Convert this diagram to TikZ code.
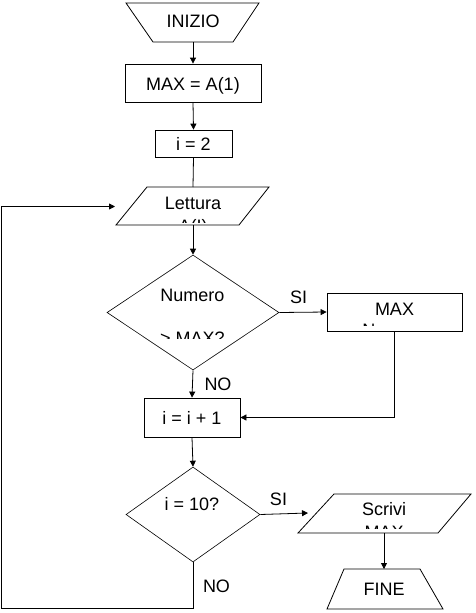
\documentclass[tikz,border=0pt]{standalone}
\usepackage{fontspec}
\setmainfont{Liberation Sans}
\usetikzlibrary{arrows.meta,shapes.geometric}
\begin{document}
\begin{tikzpicture}[x=1pt,y=-1pt,
  line width=0.8pt,
  arr/.style={-{Triangle[length=6pt,width=6pt]}},
  txt/.style={font=\fontsize{18}{21}\selectfont, inner sep=0pt, anchor=base},
  box/.style={draw, rectangle, inner sep=0pt},
  dia/.style={draw, diamond, inner sep=0pt, line width=0.6pt}]
\useasboundingbox (0,0) rectangle (476,613);

% INIZIO
\draw (126,3) -- (259,3) -- (233,42) -- (153,42) -- cycle;
\coordinate (iniB) at (193,42);
\node[txt] (inizio) at (193,27.5) {INIZIO};

% MAX = A(1)
\node[box, minimum width=136pt, minimum height=38pt] (max1) at (193,83) {};
\node[txt] (max1t) at (193,90) {MAX = A(1)};

% i = 2
\node[box, minimum width=77pt, minimum height=27pt] (i2) at (193.5,143.5) {};
\node[txt] (i2t) at (193.5,150.5) {i = 2};

% Lettura
\draw (147,187) -- (269,187) -- (239,225) -- (116,225) -- cycle;
\coordinate (letT) at (193,187);
\coordinate (letB) at (193,225);
\coordinate (letL) at (115,206.5);
\node[txt] (lettura) at (193,209.5) {Lettura};
\begin{scope}
  \clip (140,212) rectangle (250,222.5);
  \node[txt] (letturaB) at (193,232) {A(I)};
\end{scope}

% Numero > MAX?
\node[dia, minimum width=172pt, minimum height=115pt] (d1) at (193,312.5) {};
\node[txt] (num) at (192.5,301) {Numero};
\begin{scope}
  \clip (140,320) rectangle (250,338);
  \node[txt] (numB) at (192.5,344) {> MAX?};
\end{scope}

% MAX box
\node[box, minimum width=135pt, minimum height=38pt] (maxn) at (394.5,312) {};
\node[txt] (maxnt) at (394.5,315) {MAX};
\begin{scope}
  \clip (340,318) rectangle (450,325.5);
  \node[txt] (maxnB) at (394.5,336.5) {Numero};
\end{scope}

% i = i + 1
\node[box, minimum width=96pt, minimum height=39pt] (inc) at (192,417.5) {};
\node[txt] (inct) at (192,424) {i = i + 1};

% i = 10?
\node[dia, minimum width=134pt, minimum height=95pt] (d2) at (193,514.5) {};
\node[txt] (d2t) at (192,510) {i = 10?};

% Scrivi MAX
\draw (334,494) -- (471,494) -- (438,533) -- (298,533) -- cycle;
\coordinate (scrL) at (308,513);
\coordinate (scrB) at (384,533);
\node[txt] (scrivi) at (384,515.5) {Scrivi};
\begin{scope}
  \clip (340,520) rectangle (430,528);
  \node[txt] (scriviB) at (384,538.5) {MAX};
\end{scope}

% FINE
\draw (344,569) -- (420,569) -- (443,609) -- (327,609) -- cycle;
\coordinate (fineT) at (384,569);
\node[txt] (fine) at (384,595) {FINE};

% labels
\node[txt] (si1) at (298.5,303) {SI};
\node[txt] (no1) at (218,390) {NO};
\node[txt] (si2) at (278.5,505) {SI};
\node[txt] (no2) at (216.5,592.5) {NO};

% connectors
\draw[arr] (iniB) -- (max1.north);
\draw[arr] (max1.south) -- (i2.north);
\draw (i2.south) -- (letT);
\draw[arr] (letB) -- (d1.north);
\draw[arr] (d1.east) -- (maxn.west);
\draw[arr] (maxn.south) |- (inc.east);
\draw[arr] (d1.south) -- (inc.north);
\draw[arr] (inc.south) -- (d2.north);
\draw[arr] (d2.east) -- (scrL);
\draw[arr] (scrB) -- (fineT);
\coordinate (lp1) at (1,608);
\coordinate (lp2) at (1,206.5);
\draw[arr] (d2.south) |- (lp1) -- (lp2) -- (letL);
\end{tikzpicture}
\end{document}
